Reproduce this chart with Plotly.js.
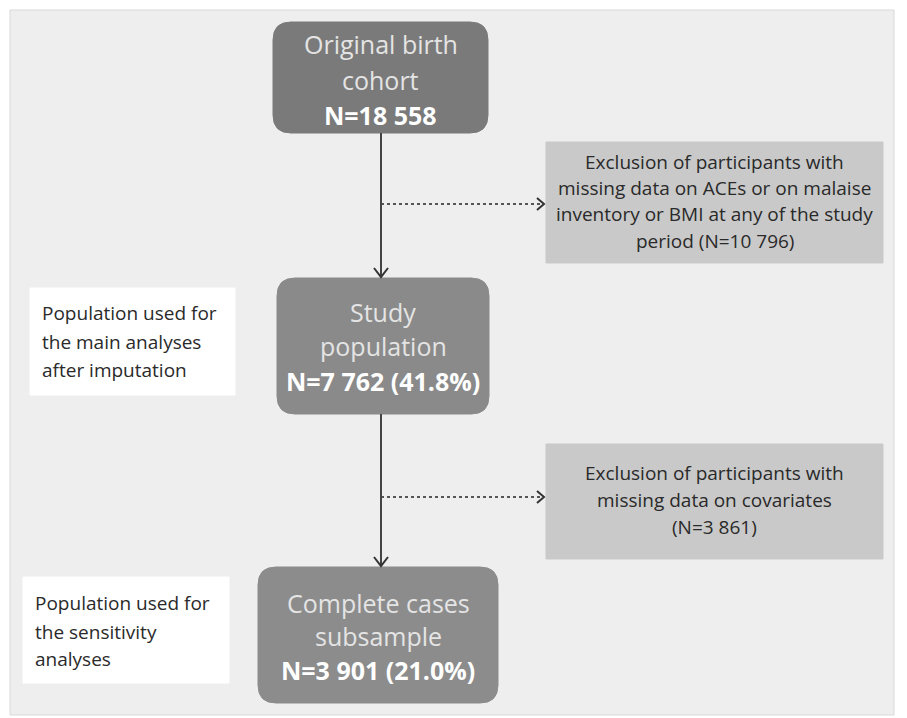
<!DOCTYPE html>
<html>
<head>
<meta charset="utf-8">
<script src="https://cdn.plot.ly/plotly-3.0.1.min.js"></script>
<style>html,body{margin:0;padding:0;background:#fff;}#chart{width:907px;height:718px;}</style>
</head>
<body>
<div id="chart"></div>
<script>
// ---- content (text data) ----
const mainBoxLines = [
  ["Original birth", "cohort"],
  ["Study", "population"],
  ["Complete cases", "subsample"]
];
const mainBoxCounts = ["N=18 558", "N=7 762 (41.8%)", "N=3 901 (21.0%)"];
const exclusionLines = [
  ["Exclusion of participants with", "missing data on ACEs or on malaise", "inventory or BMI at any of the study", "period (N=10 796)"],
  ["Exclusion of participants with", "missing data on covariates", "(N=3 861)"]
];
const sideLabelLines = [
  ["Population used for", "the main analyses", "after imputation"],
  ["Population used for", "the sensitivity", "analyses"]
];

// ---- layout geometry ----
const mainBoxes = [
  {x0: 273, x1: 488, y0: 22, y1: 133, fill: "#7a7a7a", lineY: [44, 80, 115]},
  {x0: 277, x1: 489, y0: 278, y1: 414, fill: "#8a8a8a", lineY: [312, 346, 381]},
  {x0: 258, x1: 498, y0: 567, y1: 703, fill: "#8c8c8c", lineY: [603, 636, 670]}
];
const exclBoxes = [
  {x0: 546, x1: 883, y0: 142, y1: 263, lineY: [162, 188, 214, 241], arrowY: 204},
  {x0: 546, x1: 883, y0: 444, y1: 559, lineY: [473, 500, 527], arrowY: 497}
];
const sideBoxes = [
  {x0: 30, x1: 235, y0: 288, y1: 395, tx: 40, lineY: [313, 342, 370]},
  {x0: 23, x1: 229, y0: 577, y1: 683, tx: 33, lineY: [603, 632, 659]}
];
const spineX = 381;

function roundRect(x0, y0, x1, y1, r) {
  return `M${x0 + r},${y0} L${x1 - r},${y0} Q${x1},${y0} ${x1},${y0 + r} ` +
         `L${x1},${y1 - r} Q${x1},${y1} ${x1 - r},${y1} L${x0 + r},${y1} ` +
         `Q${x0},${y1} ${x0},${y1 - r} L${x0},${y0 + r} Q${x0},${y0} ${x0 + r},${y0} Z`;
}

const shapes = [];
const annotations = [];

// panel
shapes.push({type: "rect", x0: 10, x1: 894, y0: 10, y1: 715, fillcolor: "#eeeeee",
  line: {color: "#d9d9d9", width: 1}, layer: "below"});

// main rounded boxes
mainBoxes.forEach((b, i) => {
  shapes.push({type: "path", path: roundRect(b.x0, b.y0, b.x1, b.y1, 18),
    fillcolor: b.fill, line: {color: b.fill, width: 1}});
  const cx = (b.x0 + b.x1) / 2;
  mainBoxLines[i].forEach((t, j) => {
    annotations.push({x: cx, y: b.lineY[j], xref: "x", yref: "y", text: t, showarrow: false,
      xanchor: "center", yanchor: "middle",
      font: {family: "Open Sans", size: 25, color: "#e4e4e4"}});
  });
  annotations.push({x: cx, y: b.lineY[2], xref: "x", yref: "y", text: "<b>" + mainBoxCounts[i] + "</b>",
    showarrow: false, xanchor: "center", yanchor: "middle",
    font: {family: "Open Sans", size: 25, color: "#ffffff"}});
});

// exclusion boxes + dotted arrows
exclBoxes.forEach((b, i) => {
  shapes.push({type: "rect", x0: b.x0, x1: b.x1, y0: b.y0, y1: b.y1,
    fillcolor: "#c9c9c9", line: {color: "#c9c9c9", width: 1}});
  const cx = (b.x0 + b.x1) / 2;
  exclusionLines[i].forEach((t, j) => {
    annotations.push({x: cx, y: b.lineY[j], xref: "x", yref: "y", text: t, showarrow: false,
      xanchor: "center", yanchor: "middle",
      font: {family: "Open Sans", size: 19, color: "#2a2a2a"}});
  });
  shapes.push({type: "line", x0: spineX, x1: b.x0 - 2, y0: b.arrowY, y1: b.arrowY,
    line: {color: "#555555", width: 2, dash: "dot"}});
  shapes.push({type: "path",
    path: `M${b.x0 - 9},${b.arrowY - 6} L${b.x0 - 2},${b.arrowY} L${b.x0 - 9},${b.arrowY + 6}`,
    line: {color: "#333333", width: 2}});
});

// side labels
sideBoxes.forEach((b, i) => {
  shapes.push({type: "rect", x0: b.x0, x1: b.x1, y0: b.y0, y1: b.y1,
    fillcolor: "#ffffff", line: {color: "#ffffff", width: 1}});
  sideLabelLines[i].forEach((t, j) => {
    annotations.push({x: b.tx, y: b.lineY[j], xref: "x", yref: "y", text: t, showarrow: false,
      xanchor: "left", yanchor: "middle",
      font: {family: "Open Sans", size: 19, color: "#2a2a2a"}});
  });
});

// solid vertical arrows
[[mainBoxes[0].y1, mainBoxes[1].y0], [mainBoxes[1].y1, mainBoxes[2].y0]].forEach(([ya, yb]) => {
  shapes.push({type: "line", x0: spineX, x1: spineX, y0: ya, y1: yb - 1,
    line: {color: "#444444", width: 2}});
  shapes.push({type: "path",
    path: `M${spineX - 7},${yb - 10} L${spineX},${yb - 1} L${spineX + 7},${yb - 10}`,
    line: {color: "#333333", width: 2}});
});

const layout = {
  width: 907, height: 718,
  margin: {l: 0, r: 0, t: 0, b: 0},
  paper_bgcolor: "#ffffff", plot_bgcolor: "#ffffff",
  xaxis: {range: [0, 907], visible: false, fixedrange: true},
  yaxis: {range: [718, 0], visible: false, fixedrange: true},
  shapes: shapes,
  annotations: annotations,
  showlegend: false
};

Plotly.newPlot("chart", [{x: [], y: [], type: "scatter", mode: "markers"}], layout,
  {displayModeBar: false, staticPlot: true});
</script>
</body>
</html>
